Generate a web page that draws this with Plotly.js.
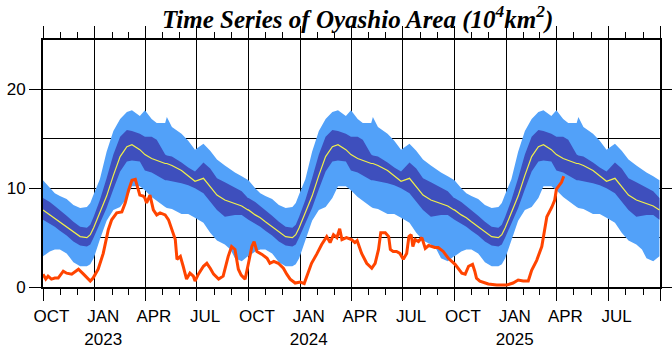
<!DOCTYPE html>
<html>
<head>
<meta charset="utf-8">
<script src="https://cdn.plot.ly/plotly-3.0.1.min.js"></script>
<style>
  html, body { margin: 0; padding: 0; background: #fff; }
  #chart { width: 672px; height: 348px; }
</style>
</head>
<body>
<div id="chart"></div>
<script>
// ---- Climatology (one Oct–Sep season, repeated for each season shown) ----
const clmMonthDay = ["10-01","10-13","10-22","10-31","11-12","11-24","12-06","12-18","12-24","12-30",
  "01-10","01-22","02-03","02-15","02-27","03-08","03-22","03-31","04-12","04-21","05-06","05-09","05-18",
  "06-04","06-16","06-28","07-13","07-25","08-06","08-20","08-30","09-07","09-19","09-30"];
const clmMean    = [7.8,7.3,7.0,6.6,6.1,5.6,5.1,5.0,5.3,6.0, 7.5,9.2,11.3,13.2,14.2,14.4,13.9,13.4,13.0,12.8,12.5,12.5,12.3, 11.8,11.2,10.7,11.0,10.2,9.3,8.8,8.6,8.5,8.2,7.8];
const clmInnerHi = [9.0,8.6,8.2,7.8,7.2,6.6,6.1,6.0,6.3,7.1, 8.8,11.0,13.4,15.2,15.9,15.8,15.5,15.2,15.2,14.9,13.4,13.3,13.2, 12.6,12.1,11.7,12.6,12.0,11.0,10.6,10.3,10.1,9.7,9.0];
const clmInnerLo = [6.8,6.4,6.1,5.7,5.2,4.6,4.2,4.1,4.3,5.0, 6.4,8.0,9.9,11.7,12.7,12.8,12.7,11.8,11.6,11.3,10.8,10.8,10.7, 10.5,10.3,10.0,9.5,8.6,7.8,7.1,7.2,7.3,7.3,6.8];
const clmOuterHi = [10.8,10.0,9.5,9.2,8.9,8.3,8.0,8.1,8.5,9.4, 10.9,13.7,15.8,17.0,17.7,17.9,17.3,17.9,17.0,16.6,16.6,17.2,16.2, 15.5,14.8,13.9,14.5,13.8,12.9,12.3,11.9,11.6,11.2,10.8];
const clmOuterLo = [3.1,3.6,3.8,3.8,3.4,2.5,2.1,2.1,2.3,2.9, 4.8,6.7,7.8,8.1,9.0,10.2,10.2,9.8,9.1,8.7,8.1,8.0,7.9, 7.4,7.4,7.0,6.5,5.5,4.7,4.3,3.8,2.9,2.6,3.1];
const seasonStartYears = [2022, 2023, 2024];

// ---- Observed Oyashio area ----
const obsDates = ["2022-10-01","2022-10-06","2022-10-10","2022-10-16","2022-10-22","2022-10-28","2022-11-06","2022-11-12","2022-11-21","2022-12-03","2022-12-12","2022-12-24","2022-12-29",
  "2023-01-07","2023-01-16","2023-01-25","2023-01-31","2023-02-09","2023-02-18","2023-02-24","2023-03-02","2023-03-08","2023-03-14","2023-03-19","2023-03-22","2023-03-28","2023-03-31",
  "2023-04-03","2023-04-09","2023-04-15","2023-04-21","2023-04-27","2023-05-06","2023-05-12","2023-05-18","2023-05-24","2023-05-27","2023-06-02","2023-06-07","2023-06-13","2023-06-19","2023-06-25","2023-06-28",
  "2023-07-04","2023-07-13","2023-07-19","2023-07-25","2023-07-31","2023-08-09","2023-08-17","2023-08-26","2023-09-01","2023-09-07","2023-09-13","2023-09-18","2023-09-25",
  "2023-10-01","2023-10-07","2023-10-11","2023-10-16","2023-10-25","2023-11-03","2023-11-08","2023-11-15","2023-11-23","2023-12-02","2023-12-08","2023-12-14","2023-12-23",
  "2024-01-01","2024-01-08","2024-01-15","2024-01-21","2024-01-30","2024-02-08","2024-02-17","2024-02-23","2024-02-29","2024-03-06","2024-03-11","2024-03-15","2024-03-23",
  "2024-04-01","2024-04-07","2024-04-11","2024-04-19","2024-04-28","2024-05-07","2024-05-13","2024-05-19","2024-05-23","2024-05-31","2024-06-06","2024-06-09","2024-06-14","2024-06-20","2024-06-26",
  "2024-07-02","2024-07-08","2024-07-12","2024-07-16","2024-07-19","2024-07-23","2024-07-29","2024-08-04","2024-08-10","2024-08-16","2024-08-22","2024-08-27","2024-09-02","2024-09-11","2024-09-20",
  "2024-10-02","2024-10-14","2024-10-20","2024-10-26","2024-11-02","2024-11-06","2024-11-09","2024-11-15","2024-11-30","2024-12-15",
  "2025-01-02","2025-01-13","2025-01-22","2025-01-31","2025-02-09","2025-02-15","2025-02-24","2025-03-05","2025-03-14","2025-03-23","2025-03-28","2025-03-31","2025-04-09","2025-04-13"];
const obsArea = [1.3,0.8,1.1,0.8,0.9,0.9,1.6,1.4,1.3,1.8,1.3,0.6,0.9,
  1.8,3.4,5.8,6.8,7.5,7.6,8.5,9.8,10.8,10.9,9.8,9.3,9.2,9.0,
  8.5,9.3,7.8,7.3,7.5,7.3,6.8,5.8,4.8,2.8,3.1,2.1,0.8,1.4,1.1,0.6,
  1.3,2.1,2.4,1.9,1.3,0.8,1.1,3.1,4.1,3.8,1.8,1.2,0.8,
  2.4,4.1,4.6,3.6,3.3,2.9,2.4,2.6,2.4,1.9,1.3,0.8,0.4,
  0.5,0.35,1.4,2.4,3.3,4.3,5.1,4.5,5.3,5.0,5.9,4.8,5.0,
  4.8,4.5,4.7,3.4,2.4,1.9,2.4,3.8,5.5,5.5,5.1,3.8,3.6,3.6,3.4,
  2.8,3.4,5.1,5.3,4.1,4.8,4.6,5.0,3.9,4.2,4.1,4.0,4.0,3.6,2.9,
  2.3,1.4,1.3,2.1,2.3,1.6,0.9,0.6,0.3,0.2,
  0.2,0.4,0.7,0.6,0.6,1.7,2.7,4.1,7.1,8.1,8.8,9.9,10.6,11.2];

// ---- Axis labels ----
const labelDates = ["2022-10-16","2023-01-16","2023-04-16","2023-07-16","2023-10-16","2024-01-16","2024-04-16","2024-07-16","2024-10-16","2025-01-16","2025-04-16","2025-07-16"];
const labelMonths = ["OCT","JAN","APR","JUL","OCT","JAN","APR","JUL","OCT","JAN","APR","JUL"];
const labelYears  = ["","2023","","","","2024","","","","2025","",""];
const xRange = ["2022-10-01","2025-10-01"];

// build the repeated climatology series
function tile(vals) {
  let out = [];
  seasonStartYears.forEach(() => { out = out.concat(vals); });
  return out;
}
let clmDates = [];
seasonStartYears.forEach(y0 => {
  clmMonthDay.forEach(md => {
    const m = parseInt(md.slice(0, 2), 10);
    clmDates.push((m >= 10 ? y0 : y0 + 1) + "-" + md);
  });
});

const lightBlue = "#52a1f9";
const darkBlue = "#3e4fbd";

const traces = [
  {x: clmDates, y: tile(clmOuterLo), type: "scatter", mode: "lines", line: {width: 0, color: lightBlue}, hoverinfo: "skip"},
  {x: clmDates, y: tile(clmOuterHi), type: "scatter", mode: "lines", line: {width: 0, color: lightBlue}, fill: "tonexty", fillcolor: lightBlue, hoverinfo: "skip"},
  {x: clmDates, y: tile(clmInnerLo), type: "scatter", mode: "lines", line: {width: 0, color: darkBlue}, hoverinfo: "skip"},
  {x: clmDates, y: tile(clmInnerHi), type: "scatter", mode: "lines", line: {width: 0, color: darkBlue}, fill: "tonexty", fillcolor: darkBlue, hoverinfo: "skip"},
  {x: clmDates, y: tile(clmMean), type: "scatter", mode: "lines", line: {width: 1.2, color: "#f2f04a"}},
  {x: obsDates, y: obsArea, type: "scatter", mode: "lines", line: {width: 3, color: "#ff4400"}},
  {x: [xRange[0]], y: [null], xaxis: "x2", type: "scatter", mode: "lines", hoverinfo: "skip"}
];

const layout = {
  width: 672, height: 348,
  margin: {l: 43, r: 12, t: 40, b: 61},
  paper_bgcolor: "#fff", plot_bgcolor: "#fff",
  showlegend: false,
  font: {family: "Liberation Sans, Arial, sans-serif", color: "#000", size: 17},
  title: {
    text: "<b><i>Time Series of Oyashio Area (10<sup>4</sup>km<sup>2</sup>)</i></b>",
    font: {family: "Liberation Serif, Times New Roman, serif", size: 25, color: "#000"},
    x: 0.51, xanchor: "center", xref: "paper",
    y: 0.946, yanchor: "middle", yref: "container"
  },
  xaxis: {
    type: "date", range: xRange,
    tick0: xRange[0], dtick: "M3",
    ticks: "outside", ticklen: 12, tickwidth: 1, tickcolor: "#000",
    showticklabels: false,
    showgrid: true, gridcolor: "#000", gridwidth: 1,
    minor: {dtick: "M1", ticks: "outside", ticklen: 6, tickwidth: 1, tickcolor: "#000", showgrid: false},
    showline: true, linecolor: "#000", linewidth: 2, mirror: "ticks",
    zeroline: false, layer: "above traces"
  },
  xaxis2: {
    type: "date", range: xRange, overlaying: "x", anchor: "y", side: "bottom",
    tickmode: "array", tickvals: labelDates,
    ticktext: labelMonths.map((m, i) => labelYears[i] ? m + "<br>" + labelYears[i] : m),
    ticks: "outside", ticklen: 14, tickcolor: "rgba(0,0,0,0)",
    showgrid: false, showline: false, zeroline: false,
    tickfont: {size: 17, color: "#000"}
  },
  yaxis: {
    range: [0, 25], tick0: 0, dtick: 10,
    ticks: "outside", ticklen: 12, tickwidth: 1, tickcolor: "#000",
    showgrid: true, gridcolor: "#000", gridwidth: 1,
    minor: {dtick: 5, ticks: "", showgrid: true, gridcolor: "#000", gridwidth: 1},
    showline: true, linecolor: "#000", linewidth: 2, mirror: "ticks",
    zeroline: false, tickfont: {size: 17, color: "#000"}, layer: "above traces"
  }
};

Plotly.newPlot("chart", traces, layout, {displayModeBar: false, staticPlot: true});
</script>
</body>
</html>
